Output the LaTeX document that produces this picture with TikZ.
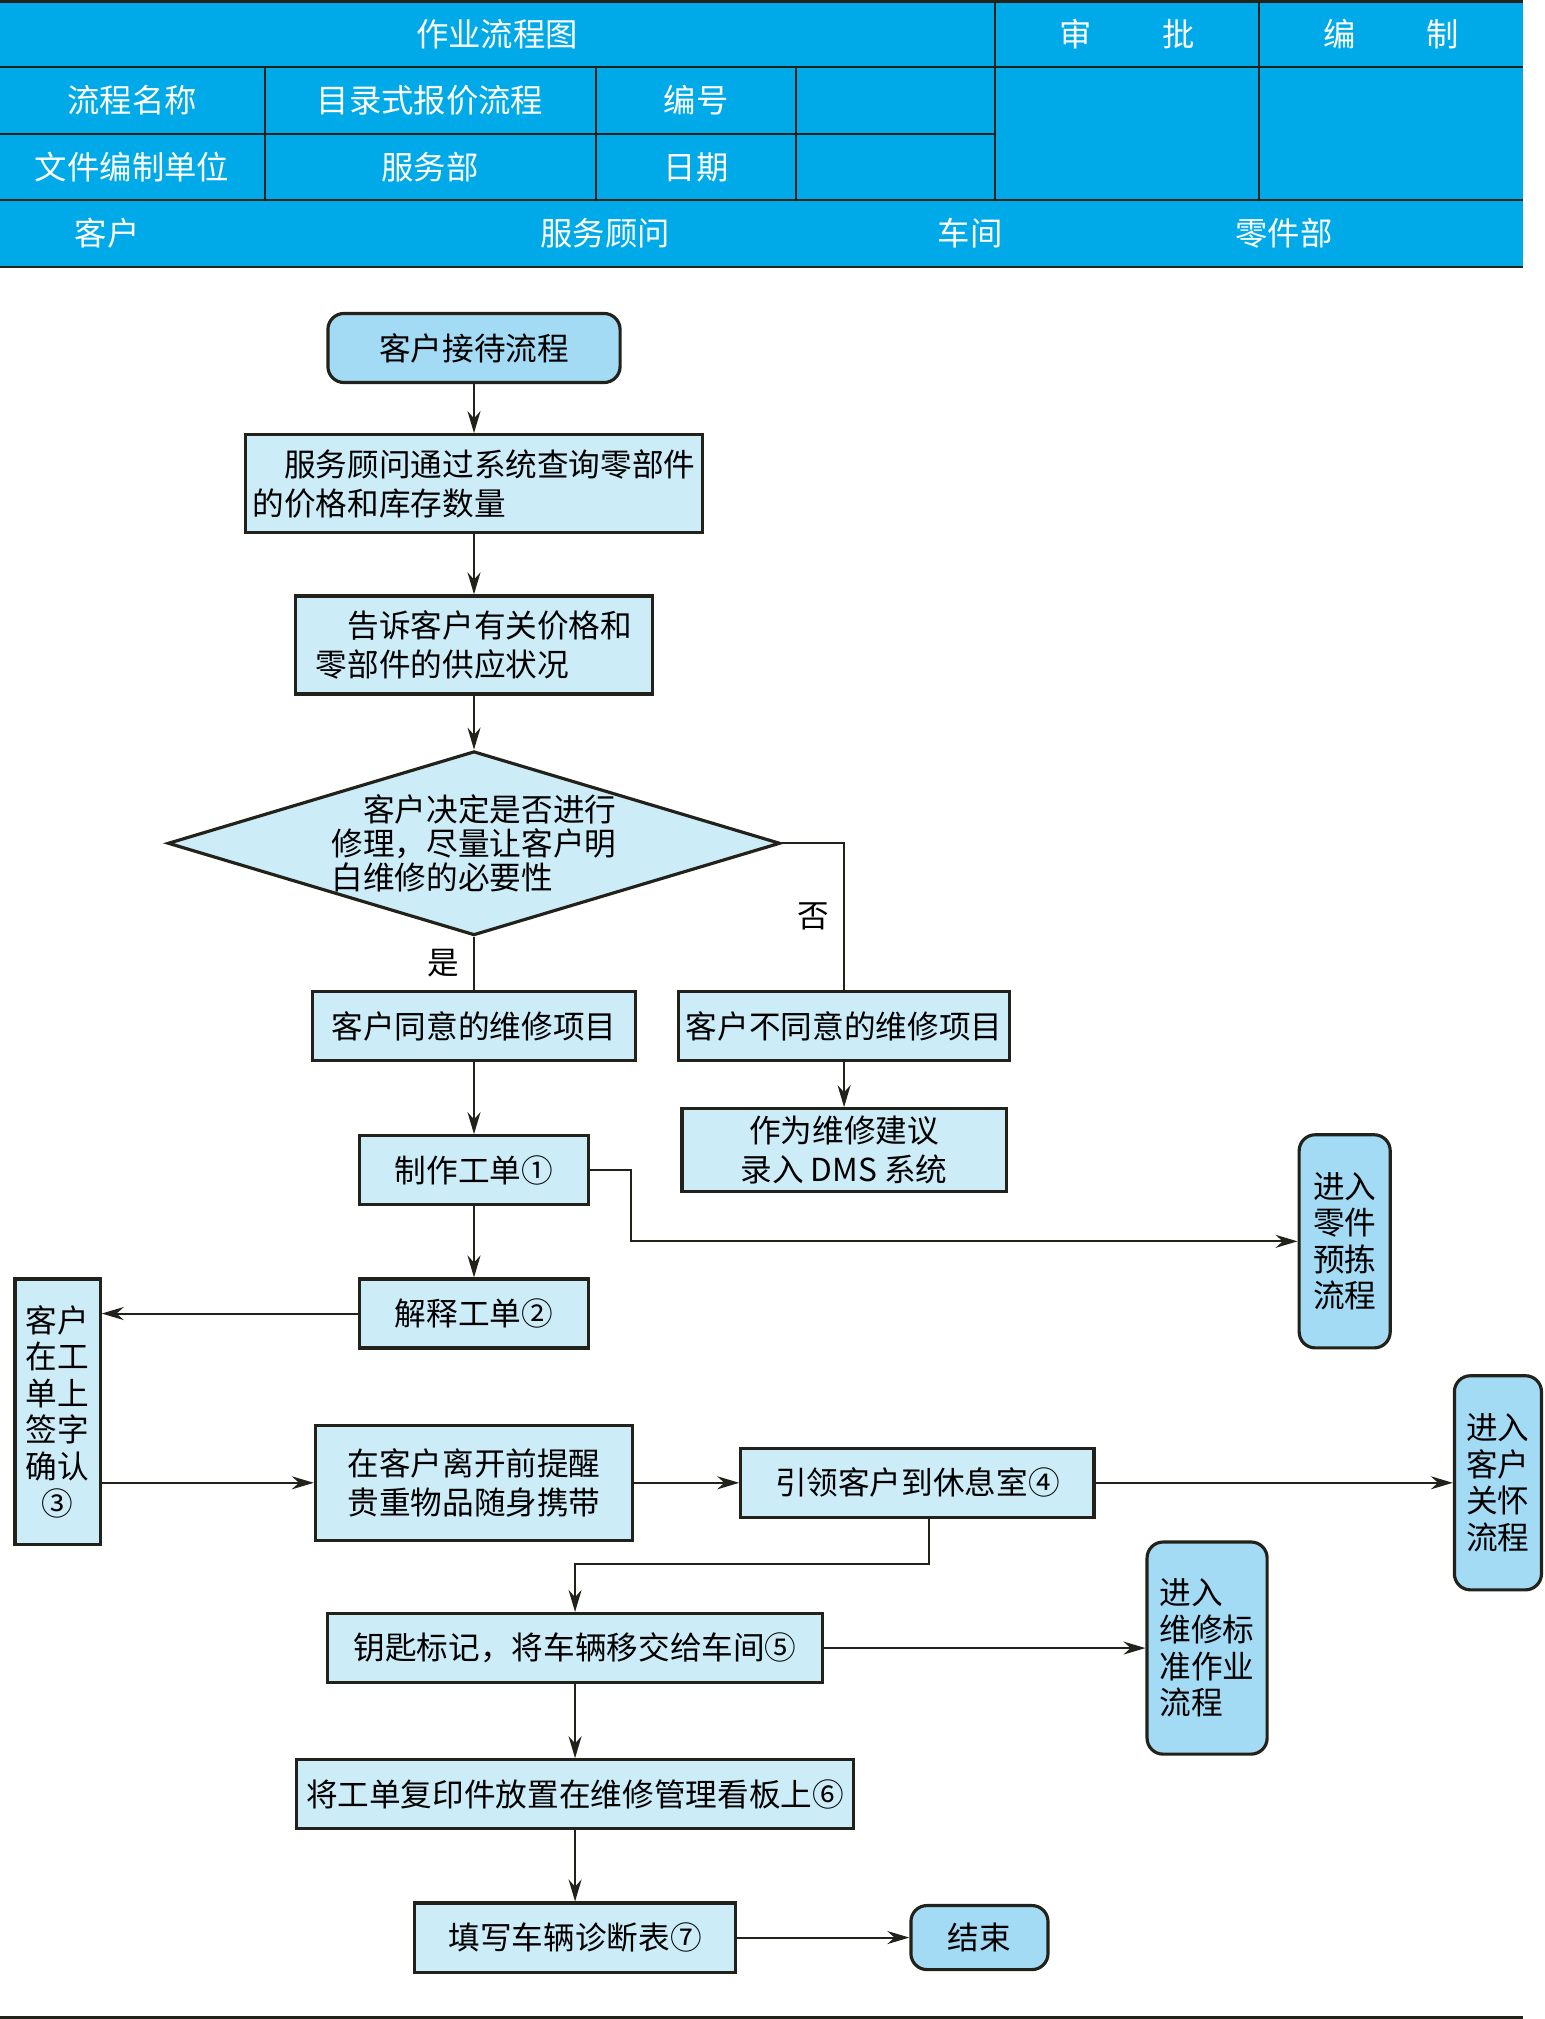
\documentclass[tikz,border=0pt]{standalone}
\usepackage{fontspec}
\setmainfont{Noto Sans CJK SC}
\usepackage{tikz}
\usetikzlibrary{arrows.meta, positioning, shapes.geometric}
\definecolor{headblue}{RGB}{0,170,232}
\definecolor{boxblue}{RGB}{204,236,248}
\definecolor{termblue}{RGB}{163,218,244}
\definecolor{inkline}{RGB}{34,34,26}
\tikzset{
  headtext/.style={
    text=white,
    font=\fontsize{9.2}{11}\selectfont
  },
  box/.style={
    rectangle,
    draw=inkline,
    fill=boxblue,
    line width=0.9pt,
    align=center,
    inner sep=2pt,
    font=\fontsize{9}{11}\selectfont,
    minimum height=0.69cm
  },
  term/.style={
    box,
    rounded corners=0.16cm,
    fill=termblue
  },
  column/.style={
    font=\fontsize{9}{10.4}\selectfont
  },
  decision/.style={
    diamond,
    draw=inkline,
    fill=boxblue,
    line width=0.9pt,
    align=left,
    aspect=3.29,
    inner sep=0pt,
    font=\fontsize{9}{9.6}\selectfont,
    minimum width=6.12cm,
    minimum height=1.84cm
  },
  arrow/.style={
    -{Stealth[length=2.2mm, width=1.3mm]},
    line width=0.55pt,
    draw=inkline
  },
  link/.style={
    line width=0.55pt,
    draw=inkline
  },
  tag/.style={
    font=\fontsize{9}{11}\selectfont,
    inner sep=1pt
  }
}

\begin{document}
\begin{tikzpicture}[x=0.01cm, y=-0.01cm]
    \useasboundingbox (0,0) rectangle (1544,2019);

    \fill[headblue] (0,2) rectangle (1523,267);
    \draw[inkline, line width=0.9pt] (0,1.5) -- (1523,1.5);
    \draw[inkline, line width=0.35pt] (0,67) -- (1523,67);
    \draw[inkline, line width=0.35pt] (0,134) -- (995,134);
    \draw[inkline, line width=0.6pt] (0,200) -- (1523,200);
    \draw[inkline, line width=0.6pt] (0,267) -- (1523,267);
    \draw[inkline, line width=0.35pt] (995,2) -- (995,200);
    \draw[inkline, line width=0.35pt] (1259,2) -- (1259,200);
    \draw[inkline, line width=0.35pt] (265,67) -- (265,200);
    \draw[inkline, line width=0.35pt] (596,67) -- (596,200);
    \draw[inkline, line width=0.35pt] (796,67) -- (796,200);
    \draw[inkline, line width=0.9pt] (0,2017.5) -- (1523,2017.5);

    \node[headtext] (title) at (497,34) {作业流程图};
    \node[headtext] (approve) at (1127,34) {审\hspace{2.2em}批};
    \node[headtext] (compile) at (1391,34) {编\hspace{2.2em}制};
    \node[headtext] (namekey) at (132,100) {流程名称};
    \node[headtext] (nameval) at (430,100) {目录式报价流程};
    \node[headtext] (numkey) at (696,100) {编号};
    \node[headtext] (unitkey) at (132,167) {文件编制单位};
    \node[headtext] (unitval) at (430,167) {服务部};
    \node[headtext] (datekey) at (696,167) {日期};
    \node[headtext] (lanecust) at (107,233) {客户};
    \node[headtext] (laneadv) at (605,233) {服务顾问};
    \node[headtext] (laneshop) at (970,233) {车间};
    \node[headtext] (laneparts) at (1284,233) {零件部};

    \node[term, minimum width=2.92cm] (reception) at (474,348) {客户接待流程};
    \node[box, align=left, minimum width=4.54cm, minimum height=0.98cm, below=0.49cm of reception] (query) {\hspace*{1em}服务顾问通过系统查询零部件\\的价格和库存数量};
    \node[box, align=left, minimum width=3.56cm, minimum height=0.98cm, below=0.60cm of query] (inform) {\hspace*{1em}告诉客户有关价格和\\零部件的供应状况};
    \node[decision, below=0.54cm of inform] (decide) {\hspace*{1em}客户决定是否进行\\修理，尽量让客户明\\白维修的必要性};
    \node[box, minimum width=3.23cm, below=0.53cm of decide] (agree) {客户同意的维修项目};
    \node[box, minimum width=3.24cm, right=0.40cm of agree] (refuse) {客户不同意的维修项目};
    \node[box, minimum width=3.24cm, minimum height=0.83cm, below=0.45cm of refuse] (advise) {作为维修建议\\录入 DMS 系统};
    \node[box, minimum width=2.29cm, below=0.72cm of agree] (order) {制作工单①};
    \node[term, column, minimum width=0.91cm, minimum height=2.13cm, right=7.07cm of order, yshift=-0.71cm] (picking) {进入\\零件\\预拣\\流程};
    \node[box, minimum width=2.29cm, below=0.71cm of order] (explain) {解释工单②};
    \node[box, column, minimum width=0.85cm, minimum height=2.65cm, anchor=north east] (sign) at ([xshift=-2.56cm]explain.north west) {客户\\在工\\单上\\签字\\确认\\③};
    \node[box, minimum width=3.17cm, minimum height=1.15cm, below=0.74cm of explain] (remind) {在客户离开前提醒\\贵重物品随身携带};
    \node[box, minimum width=3.53cm, right=1.05cm of remind] (lounge) {引领客户到休息室④};
    \node[term, column, minimum width=0.87cm, minimum height=2.14cm, right=3.57cm of lounge] (care) {进入\\客户\\关怀\\流程};
    \node[box, minimum width=4.95cm, below=0.70cm of remind, xshift=1.01cm] (handover) {钥匙标记，将车辆移交给车间⑤};
    \node[term, column, align=left, minimum width=1.20cm, minimum height=2.12cm, right=3.21cm of handover] (standard) {进入\\维修标\\准作业\\流程};
    \node[box, minimum width=5.56cm, below=0.74cm of handover] (board) {将工单复印件放置在维修管理看板上⑥};
    \node[box, minimum width=3.21cm, below=0.71cm of board] (diagnose) {填写车辆诊断表⑦};
    \node[term, minimum width=1.37cm, minimum height=0.64cm, right=1.72cm of diagnose] (finish) {结束};

    \draw[arrow] (reception) -- (query);
    \draw[arrow] (query) -- (inform);
    \draw[arrow] (inform) -- (decide);
    \draw[link] (decide.south) -- node[tag, left=0.1cm] {是} (decide.south |- agree.north);
    \draw[link] (decide.east) -| node[tag, pos=0.75, left=0.1cm] {否} (refuse.north);
    \draw[arrow] (refuse) -- (advise);
    \draw[arrow] (agree) -- (order);
    \draw[arrow] (order.east) -- ++(0.41cm,0) |- (picking.west);
    \draw[arrow] (order) -- (explain);
    \draw[arrow] (explain.west) -- (explain.west -| sign.east);
    \draw[arrow] (sign.east |- remind.west) -- (remind.west);
    \draw[arrow] (remind) -- (lounge);
    \draw[arrow] (lounge) -- (care);
    \draw[arrow] ([xshift=0.12cm]lounge.south) -- ++(0,-0.45cm) -| (handover.north);
    \draw[arrow] (handover) -- (standard);
    \draw[arrow] (handover) -- (board);
    \draw[arrow] (board) -- (diagnose);
    \draw[arrow] (diagnose) -- (finish);
\end{tikzpicture}
\end{document}
